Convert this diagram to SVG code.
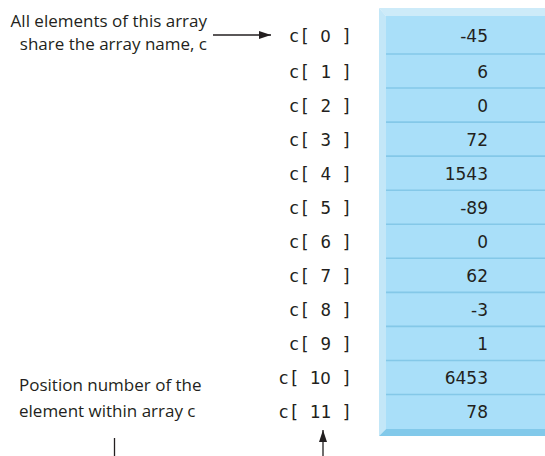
<svg xmlns="http://www.w3.org/2000/svg" width="545" height="456" viewBox="0 0 545 456">
<defs>
<style>
.note{font-family:"Open Sans","Liberation Sans",sans-serif;font-size:17px;fill:#231f20}
.mono{font-family:"DejaVu Sans Mono","Liberation Mono",monospace;font-size:17.5px;fill:#231f20}
.num{font-family:"DejaVu Sans","Liberation Sans",sans-serif;font-size:17px;fill:#231f20;text-anchor:end}
.z{font-family:"DejaVu Sans","Liberation Sans",sans-serif;font-size:16.6px}
.lbl{text-anchor:end}
.sep{stroke:#84c8e8;stroke-width:1.6}
.ln{stroke:#231f20;stroke-width:1.3;fill:none}
</style>
<marker id="ah" viewBox="0 0 12 8" refX="12" refY="4" markerWidth="12" markerHeight="8" markerUnits="userSpaceOnUse" orient="auto">
<path d="M0,0 L12,4 L0,8 Z" fill="#231f20"/>
</marker>
</defs>
<rect width="545" height="456" fill="#ffffff"/>
<g id="array-box">
<polygon points="379,8 545,8 545,16 386,16" fill="#cdebf9"/>
<polygon points="379,8 386,16 386,429 379,436" fill="#c3e7f8"/>
<rect x="386" y="16" width="159" height="413" fill="#a9dff9"/>
<polygon points="379,436 386,429 545,429 545,436" fill="#82c9ea"/>
<g id="separators">
<line class="sep" x1="386" y1="54" x2="545" y2="54"/>
<line class="sep" x1="386" y1="88.05" x2="545" y2="88.05"/>
<line class="sep" x1="386" y1="122.1" x2="545" y2="122.1"/>
<line class="sep" x1="386" y1="156.15" x2="545" y2="156.15"/>
<line class="sep" x1="386" y1="190.2" x2="545" y2="190.2"/>
<line class="sep" x1="386" y1="224.25" x2="545" y2="224.25"/>
<line class="sep" x1="386" y1="258.3" x2="545" y2="258.3"/>
<line class="sep" x1="386" y1="292.35" x2="545" y2="292.35"/>
<line class="sep" x1="386" y1="326.4" x2="545" y2="326.4"/>
<line class="sep" x1="386" y1="360.45" x2="545" y2="360.45"/>
<line class="sep" x1="386" y1="394.5" x2="545" y2="394.5"/>
</g>
</g>
<g id="row0"><text class="mono lbl" x="352" y="42">c[ <tspan class="z">0</tspan> ]</text><text class="num" x="488" y="42">-45</text></g>
<g id="row1"><text class="mono lbl" x="352" y="78">c[ 1 ]</text><text class="num" x="488" y="78">6</text></g>
<g id="row2"><text class="mono lbl" x="352" y="112">c[ 2 ]</text><text class="num" x="488" y="112">0</text></g>
<g id="row3"><text class="mono lbl" x="352" y="146">c[ 3 ]</text><text class="num" x="488" y="146">72</text></g>
<g id="row4"><text class="mono lbl" x="352" y="180">c[ 4 ]</text><text class="num" x="488" y="180">1543</text></g>
<g id="row5"><text class="mono lbl" x="352" y="214">c[ 5 ]</text><text class="num" x="488" y="214">-89</text></g>
<g id="row6"><text class="mono lbl" x="352" y="248">c[ 6 ]</text><text class="num" x="488" y="248">0</text></g>
<g id="row7"><text class="mono lbl" x="352" y="282">c[ 7 ]</text><text class="num" x="488" y="282">62</text></g>
<g id="row8"><text class="mono lbl" x="352" y="316">c[ 8 ]</text><text class="num" x="488" y="316">-3</text></g>
<g id="row9"><text class="mono lbl" x="352" y="350">c[ 9 ]</text><text class="num" x="488" y="350">1</text></g>
<g id="row10"><text class="mono lbl" x="352" y="384">c[ 1<tspan class="z">0</tspan> ]</text><text class="num" x="488" y="384">6453</text></g>
<g id="row11"><text class="mono lbl" x="352" y="418">c[ 11 ]</text><text class="num" x="488" y="418">78</text></g>
<g id="note-name">
<text class="note" text-anchor="end" x="207" y="27">All elements of this array</text>
<text class="note" text-anchor="end" x="207" y="50">share the array name, c</text>
</g>
<g id="note-position">
<text class="note" x="19" y="391">Position number of the</text>
<text class="note" x="19" y="417">element within array c</text>
</g>
<g id="connectors">
<line class="ln" x1="213" y1="35" x2="271" y2="35" marker-end="url(#ah)"/>
<line class="ln" x1="114.5" y1="438" x2="114.5" y2="456"/>
<line class="ln" x1="323" y1="456" x2="323" y2="430" marker-end="url(#ah)"/>
</g>
</svg>
